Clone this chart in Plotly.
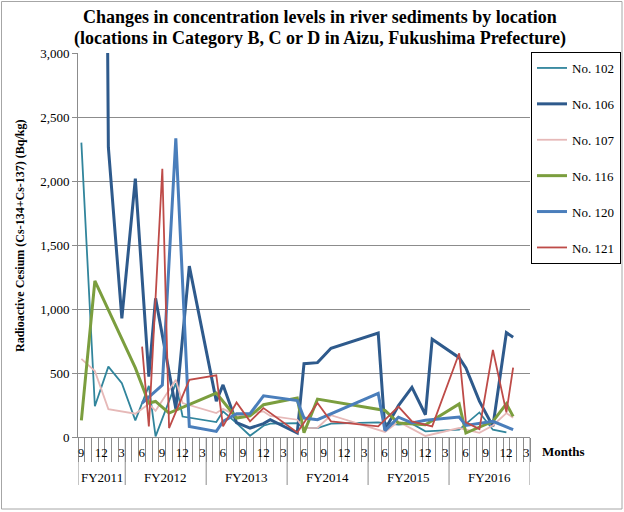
import plotly.graph_objects as go

# Monthly sampling results, Bq/kg (Cs-134 + Cs-137), keyed by "YYYY-MM"
months_102 = ["2011-09", "2011-11", "2012-01", "2012-03", "2012-05", "2012-07", "2012-08",
              "2012-11", "2012-12", "2013-05", "2013-06", "2013-08", "2013-10", "2013-12",
              "2014-01", "2014-05", "2014-06", "2014-08", "2014-10", "2015-05", "2015-08",
              "2015-10", "2015-12", "2016-05", "2016-08", "2016-10", "2016-12"]
values_102 = [2300, 240, 550, 420, 130, 400, 5,
              420, 160, 117, 200, 109, 10, 88,
              104, 109, 70, 70, 104, 114, 96,
              104, 44, 57, 192, 57, 36]

months_106 = ["2011-12", "2012-01", "2012-03", "2012-05", "2012-07", "2012-08", "2012-11",
              "2013-01", "2013-05", "2013-06", "2013-08", "2013-10", "2013-12", "2014-01",
              "2014-05", "2014-06", "2014-08", "2014-10", "2015-05", "2015-06", "2015-08",
              "2015-10", "2015-12", "2016-01", "2016-05", "2016-06", "2016-08", "2016-10",
              "2016-12", "2017-01"]
values_106 = [9600, 2264, 927, 2018, 472, 1083, 220,
              1335, 280, 407, 112, 70, 105, 135,
              31, 573, 581, 693, 812, 57, 245,
              388, 174, 764, 620, 540, 280, 83,
              815, 779]

months_107 = ["2011-09", "2011-11", "2012-01", "2012-05", "2012-07", "2012-08", "2012-11",
              "2012-12", "2013-05", "2013-06", "2013-08", "2013-12", "2014-01", "2014-05",
              "2014-06", "2014-08", "2014-10", "2015-06", "2015-08", "2015-12", "2016-05",
              "2016-08", "2016-10", "2016-12", "2017-01"]
values_107 = [610, 515, 218, 182, 258, 205, 447,
              265, 187, 220, 166, 200, 165, 135,
              70, 72, 170, 40, 120, 8, 70,
              33, 90, 187, 150]

months_116 = ["2011-09", "2011-11", "2012-05", "2012-07", "2012-08", "2012-10", "2013-05",
              "2013-08", "2013-10", "2013-12", "2014-05", "2014-06", "2014-08", "2015-06",
              "2015-08", "2015-12", "2016-05", "2016-06", "2016-10", "2016-12", "2017-01"]
values_116 = [130, 1220, 540, 265, 278, 187, 343,
              148, 165, 252, 304, 33, 296, 207,
              109, 96, 259, 31, 122, 259, 161]

months_120 = ["2012-06", "2012-09", "2012-11", "2013-01", "2013-05", "2013-06", "2013-08",
              "2013-10", "2013-12", "2014-05", "2014-06", "2014-08", "2015-05", "2015-06",
              "2015-08", "2015-10", "2015-12", "2016-05", "2016-06", "2016-10", "2017-01"]
values_120 = [265, 405, 2334, 83, 44, 122, 182,
              182, 322, 285, 148, 135, 340, 50,
              155, 110, 130, 156, 90, 122, 57]

months_121 = ["2012-06", "2012-07", "2012-09", "2012-10", "2013-01", "2013-05", "2013-06",
              "2013-08", "2013-10", "2013-12", "2014-05", "2014-08", "2014-10", "2015-05",
              "2015-08", "2015-10", "2016-01", "2016-05", "2016-06", "2016-08", "2016-10",
              "2016-12", "2017-01"]
values_121 = [706, 83, 2096, 70, 447, 482, 83,
              270, 122, 226, 36, 265, 122, 83,
              238, 122, 83, 654, 114, 62, 680,
              192, 542]

series_names = ["No. 102", "No. 106", "No. 107", "No. 116", "No. 120", "No. 121"]
series_months = [months_102, months_106, months_107, months_116, months_120, months_121]
series_values = [values_102, values_106, values_107, values_116, values_120, values_121]
series_colors = ["#31859C", "#2E5A8C", "#E6B9B8", "#7B9E3E", "#4A7EBB", "#BE4B48"]
series_widths = [1.8, 3, 1.8, 3, 3, 1.8]

# Category axis: one slot per month from Sep 2011 to Mar 2017
FIRST_YEAR, FIRST_MONTH = 2011, 9
N_MONTHS = 67
fiscal_years = ["FY2011", "FY2012", "FY2013", "FY2014", "FY2015", "FY2016"]


def slot(ym):
    y, m = (int(p) for p in ym.split("-"))
    return (y - FIRST_YEAR) * 12 + (m - FIRST_MONTH)


def month_of(i):
    return (FIRST_MONTH - 1 + i) % 12 + 1


SERIF = "Liberation Serif, Times New Roman, serif"
GRID = "#8C8C8C"

# plot-area geometry in pixels
L, R, T, B = 78, 530, 53, 437
PW, PH = R - L, B - T


def px_x(p):
    return (p - L) / PW


def px_y(p):
    return (B - p) / PH


fig = go.Figure()
for name, mon, val, col, w in zip(series_names, series_months, series_values,
                                  series_colors, series_widths):
    fig.add_trace(go.Scatter(
        x=[slot(m) + 0.5 for m in mon], y=val, name=name, mode="lines",
        line=dict(color=col, width=w), legendgroup=name,
    ))

# a tick mark between every month; month numbers every third month,
# shifted half a slot so they sit centred in their month
tick_slots = list(range(N_MONTHS + 1))
fig.update_xaxes(
    range=[0, N_MONTHS], showgrid=False, zeroline=False,
    showline=True, linecolor=GRID, linewidth=1,
    tickmode="array", tickvals=tick_slots,
    ticktext=[str(month_of(i)) if (i % 3 == 0 and i < N_MONTHS) else "" for i in tick_slots],
    ticks="outside", ticklen=24, tickcolor=GRID, tickwidth=1,
    ticklabelshift=3, ticklabelstandoff=-21,
    tickfont=dict(family=SERIF, size=13, color="#000"),
)
fig.update_yaxes(
    range=[0, 3000], dtick=500, tickformat=",",
    showgrid=True, gridcolor=GRID, gridwidth=1, zeroline=False,
    showline=True, linecolor=GRID, linewidth=1,
    ticks="outside", ticklen=5, tickcolor=GRID,
    tickfont=dict(family=SERIF, size=13, color="#000"),
)

# fiscal-year group dividers and labels (April to March)
fy_bounds = [0] + [slot(f"{y}-04") for y in range(2012, 2017)] + [N_MONTHS]
for b in fy_bounds:
    fig.add_shape(type="line", xref="x", yref="paper", x0=b, x1=b, y0=0, y1=px_y(485),
                  line=dict(color=GRID, width=1))
for k, fy in enumerate(fiscal_years):
    fig.add_annotation(x=(fy_bounds[k] + fy_bounds[k + 1]) / 2, xref="x",
                       y=px_y(477), yref="paper", xanchor="center", yanchor="middle",
                       text=fy, showarrow=False,
                       font=dict(family=SERIF, size=13, color="#000"))

fig.add_annotation(x=px_x(563), xref="paper", y=px_y(451), yref="paper",
                   xanchor="center", yanchor="middle", text="<b>Months</b>",
                   showarrow=False, font=dict(family=SERIF, size=13, color="#000"))
fig.add_annotation(x=px_x(20), xref="paper", y=px_y(236), yref="paper",
                   xanchor="center", yanchor="middle",
                   text="<b>Radioactive Cesium (Cs-134+Cs-137) (Bq/kg)</b>",
                   textangle=-90, showarrow=False,
                   font=dict(family=SERIF, size=12, color="#000"))

# two-line chart title
title_lines = ["Changes in concentration levels in river sediments by location",
               "(locations in Category B, C or D in Aizu, Fukushima Prefecture)"]
for line, yc in zip(title_lines, [17, 38]):
    fig.add_annotation(x=px_x(320), xref="paper", y=px_y(yc), yref="paper",
                       xanchor="center", yanchor="middle", text=f"<b>{line}</b>",
                       showarrow=False, font=dict(family=SERIF, size=18, color="#000"))

# chart-area border
fig.add_shape(type="rect", xref="paper", yref="paper",
              x0=px_x(1.5), x1=px_x(622), y0=px_y(509), y1=px_y(1.5),
              line=dict(color="#A6A6A6", width=1), layer="below")

fig.update_layout(
    width=624, height=512,
    margin=dict(l=L, r=624 - R, t=T, b=512 - B, autoexpand=False),
    paper_bgcolor="white", plot_bgcolor="white",
    legend=dict(
        x=px_x(531), xanchor="left", y=px_y(52), yanchor="top",
        bordercolor="#000", borderwidth=1, bgcolor="white",
        font=dict(family=SERIF, size=13, color="#000"),
        tracegroupgap=16, itemwidth=30,
    ),
    font=dict(family=SERIF),
)

fig.write_html("out.html")
